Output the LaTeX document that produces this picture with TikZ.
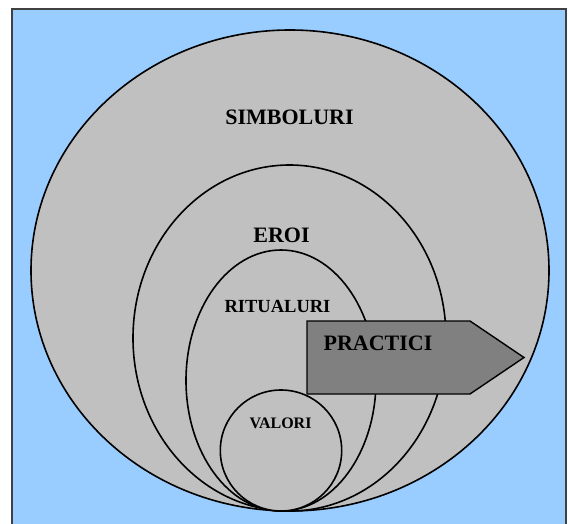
\documentclass[tikz,border=0pt]{standalone}
\usepackage{fontspec}
\setmainfont{Liberation Serif}
\definecolor{bgblue}{HTML}{99CCFF}
\definecolor{layer}{HTML}{C0C0C0}
\definecolor{arrowgray}{HTML}{808080}
\definecolor{frame}{HTML}{404040}
\begin{document}
\begin{tikzpicture}[x=1pt,y=-1pt,
  layerstyle/.style={fill=layer,draw=black,line width=1.6pt},
  lbl/.style={inner sep=0pt,font=\bfseries}]
\useasboundingbox (0,0) rectangle (568,524);
\clip (0,0) rectangle (568,524);
\fill[white] (0,0) rectangle (568,524);
\draw[fill=bgblue,draw=frame,line width=2pt] (12,9) rectangle (566,540);
% layers
\draw[layerstyle] (290,270.5) ellipse [x radius=259, y radius=240.5];
\draw[layerstyle] (289.5,338) ellipse [x radius=156.5, y radius=173];
\draw[layerstyle] (281,380.5) ellipse [x radius=95, y radius=130.5];
\draw[layerstyle] (281,450.5) ellipse [x radius=60.7, y radius=60.5];
% arrow
\draw[fill=arrowgray,draw=black,line width=1.4pt]
  (307,321) -- (470,321) -- (524,357.5) -- (470,394) -- (307,394) -- cycle;
% labels
\node[lbl,font=\fontsize{22}{24}\selectfont\bfseries] (simb) at (289.5,117.5) {SIMBOLURI};
\node[lbl,font=\fontsize{22}{24}\selectfont\bfseries] (eroi) at (281.5,235.5) {EROI};
\node[lbl,font=\fontsize{18.5}{20}\selectfont\bfseries] (rit) at (277.5,306.5) {RITUALURI};
\node[lbl,font=\fontsize{16}{18}\selectfont\bfseries] (val) at (280.5,423.5) {VALORI};
\node[lbl,font=\fontsize{22}{24}\selectfont\bfseries] (pract) at (378,343) {PRACTICI};
\end{tikzpicture}
\end{document}
